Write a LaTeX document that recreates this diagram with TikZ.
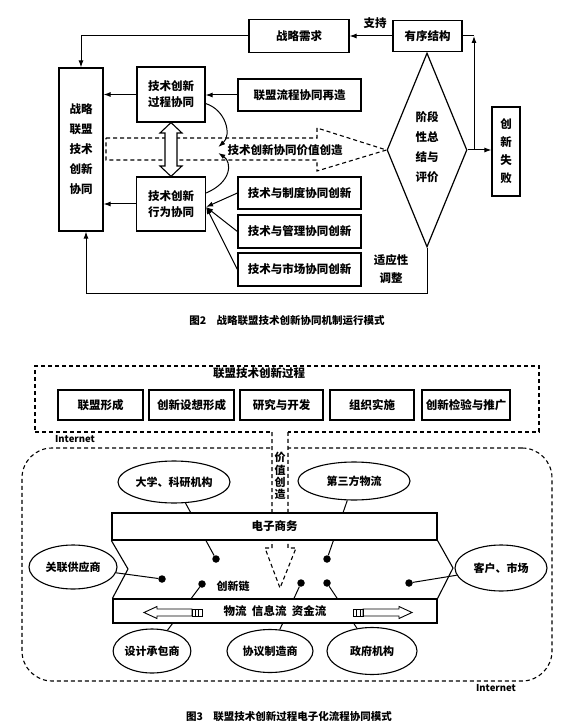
\documentclass[tikz,border=0pt]{standalone}
\usepackage{fontspec}
\setmainfont{Noto Sans CJK SC}
\usetikzlibrary{arrows.meta,shapes.geometric}
\newcommand\fsz[2]{\fontsize{#1}{#2}\selectfont}
\tikzset{
  box/.style={draw,line width=1.2pt,fill=white,inner sep=0pt,align=center,font=\bfseries\fsz{11.5}{16}},
  ell/.style={ellipse,draw,line width=1.1pt,fill=white,inner sep=0pt,font=\bfseries\fsz{11}{13}},
  dot/.style={circle,fill=black,inner sep=0pt,minimum size=7.5pt},
  dashline/.style={dashed,dash pattern=on 4pt off 3pt,line width=1.1pt},
  link/.style={line width=1pt,->},
  lbl/.style={inner sep=0pt,align=center,font=\bfseries\fsz{11.5}{16}},
}
\begin{document}
\begin{tikzpicture}[x=1pt,y=-1pt,>={Latex[length=7pt,width=5pt]}]
\useasboundingbox (0,0) rectangle (577,727);
% upper figure
\node (dem) at (299,36) [box,minimum width=100pt,minimum height=33pt] {战略需求};
\node (ord) at (427.5,36) [box,minimum width=69pt,minimum height=31pt] {有序结构};
\node (sau) at (81,149.5) [box,minimum width=44pt,minimum height=163pt,font=\bfseries\fsz{11.5}{20}] {战略\\联盟\\技术\\创新\\协同};
\node (proc) at (171,94.5) [box,minimum width=68pt,minimum height=55pt] {技术创新\\过程协同};
\node (reng) at (299.5,95) [box,minimum width=123pt,minimum height=32pt] {联盟流程协同再造};
\node (act) at (171,204) [box,minimum width=69pt,minimum height=54pt] {技术创新\\行为协同};
\node (sys) at (299.5,193) [box,minimum width=123pt,minimum height=32pt] {技术与制度协同创新};
\node (mgt) at (299.5,231.5) [box,minimum width=123pt,minimum height=33pt] {技术与管理协同创新};
\node (mkt) at (299.5,269.5) [box,minimum width=123pt,minimum height=33pt] {技术与市场协同创新};
\node (eval) at (427,150) [diamond,draw,line width=1.2pt,inner sep=0pt,minimum width=80pt,minimum height=194pt] {};
\node (evaltxt) at (427,147) [lbl,font=\bfseries\fsz{11.5}{20}] {阶段\\性总\\结与\\评价};
\node (fail) at (506,151.5) [box,minimum width=28pt,minimum height=89pt,font=\bfseries\fsz{11.5}{18}] {创\\新\\失\\败};
\draw[dashline] (106,138) -- (317,138) -- (317,128) -- (eval.west) -- (317,171) -- (317,160) -- (106,160) -- cycle;
\node (valtxt) at (285,150) [lbl,inner xsep=9pt] {技术创新协同价值创造};
\draw[line width=1.1pt,fill=white] (proc.south) -- (182,133) -- (177,133) -- (177,166) -- (182,166) -- (act.north)
  -- (160,166) -- (165,166) -- (165,133) -- (160,133) -- cycle;
\draw[link] ([yshift=-9pt]proc.east) .. controls (226,110) and (232,135) .. ([yshift=3pt]valtxt.west);
\draw[link] ([yshift=11pt]act.east) .. controls (232,182) and (232,162) .. ([yshift=-3pt]valtxt.west);
\draw[link] (sys.west) -- ([yshift=-3pt]act.east);
\draw[link] (mgt.west) -- ([yshift=-3pt]act.east);
\draw[link] (mkt.west) -- ([yshift=-3pt]act.east);
\draw[link] (ord.west) -- (dem.east);
\node (sup) at (375,23) [lbl] {支持};
\draw[link] (dem.west) -| (sau.north);
\draw[link] (reng.west) -- (reng.west -| proc.east);
\draw[link] (proc.west) -- (proc.west -| sau.east);
\draw[link] (act.west) -- (act.west -| sau.east);
\draw[link] (eval.east) -- (eval.east -| fail.west);
\coordinate (turn) at (474,36);
\draw[link] (eval.east) -| (turn);
\draw[line width=1pt] (turn) -- (ord.east);
\coordinate (low) at (427,293);
\draw[link] (eval.south) -- (low) -| ([xshift=5pt]sau.south);
\node (adj) at (391,269) [lbl,font=\bfseries\fsz{11.5}{18}] {适应性\\调整};
\node (cap1) at (287,321) [font=\bfseries\fsz{10.5}{12}] {图2\quad 战略联盟技术创新协同机制运行模式};
% lower figure
\node (flow) at (287,399) [draw,dashline,minimum width=504pt,minimum height=66pt] {};
\node (flowtitle) at (259,373) [lbl] {联盟技术创新过程};
\node (s1) at (100.5,405) [box,minimum width=85pt,minimum height=30pt] {联盟形成};
\node (s2) at (191.5,405) [box,minimum width=85pt,minimum height=30pt] {创新设想形成};
\node (s3) at (281.5,405) [box,minimum width=83pt,minimum height=30pt] {研究与开发};
\node (s4) at (372,405) [box,minimum width=84pt,minimum height=30pt] {组织实施};
\node (s5) at (466,405) [box,minimum width=88pt,minimum height=30pt] {创新检验与推广};
\node (net) at (287,564.5) [draw,dashline,rounded corners=30pt,minimum width=530pt,minimum height=233pt] {};
\node (net1) at (75,439) [font=\bfseries\fsz{9.5}{10}] {Internet};
\node (net2) at (496,688) [font=\bfseries\fsz{9.5}{10}] {Internet};
\fill[white] (272,428) rectangle (288,452);
\draw[dashline] (272,432) -- (272,548) -- (265,548) -- (280,588) -- (296,548) -- (288,548) -- (288,432);
\node (valc) at (280,476) [lbl,font=\bfseries\fsz{11}{12.3}] {价\\值\\创\\造};
\node (univ) at (174,482) [ell,minimum width=112pt,minimum height=42pt] {大学、科研机构};
\node (logi) at (354,481) [ell,minimum width=112pt,minimum height=38pt] {第三方物流};
\node (supp) at (73,567) [ell,minimum width=88pt,minimum height=44pt] {关联供应商};
\node (cust) at (501,568) [ell,minimum width=92pt,minimum height=46pt] {客户、市场};
\node (design) at (152,651) [ell,minimum width=70pt,minimum height=44pt] {设计承包商};
\node (proto) at (270,651) [ell,minimum width=86pt,minimum height=43pt] {协议制造商};
\node (gov) at (372,651) [ell,minimum width=90pt,minimum height=47pt] {政府机构};
\node (d1) at (216,559) [dot] {};
\node (d2) at (327,559) [dot] {};
\node (d3) at (162,579) [dot] {};
\node (d4) at (202,584) [dot] {};
\node (d5) at (301,583) [dot] {};
\node (d6) at (327,583) [dot] {};
\node (d7) at (409,583) [dot] {};
\draw[line width=1pt] (univ) -- (d1);
\draw[line width=1pt] (logi) -- (d2);
\draw[line width=1pt] (supp) -- (d3);
\draw[line width=1pt] (design) -- (d4);
\draw[line width=1pt] (proto) -- (d5);
\draw[line width=1pt] (gov) -- (d6);
\draw[line width=1pt] (cust) -- (d7);
\node (ebar) at (274.5,526.5) [box,minimum width=325pt,minimum height=27pt] {电子商务};
\node (fbar) at (275,611) [box,minimum width=324pt,minimum height=24pt] {物流\ \ 信息流\ \ 资金流};
\draw[line width=1.1pt] (ebar.south west) -- (128,569) -- (fbar.north west);
\draw[line width=1.1pt] (ebar.south east) -- (453,568) -- (fbar.north east);
\node (chain) at (233,586) [lbl,font=\bfseries\fsz{11}{13}] {创新链};
% hollow arrows in the bar
\draw[line width=0.9pt] (144,612.5) -- (157,606.5) -- (157,609) -- (192,609) -- (192,616) -- (157,616) -- (157,618.5) -- cycle;
\draw[line width=0.9pt] (192,609) rectangle (202,616) (195,609) -- (195,616) (198.5,609) -- (198.5,616);
\draw[line width=0.9pt] (412,612.5) -- (399,606.5) -- (399,609) -- (363,609) -- (363,616) -- (399,616) -- (399,618.5) -- cycle;
\draw[line width=0.9pt] (353,609) rectangle (363,616) (356.5,609) -- (356.5,616) (360,609) -- (360,616);
\node (cap2) at (289,717) [font=\bfseries\fsz{10.5}{12}] {图3\quad 联盟技术创新过程电子化流程协同模式};
\end{tikzpicture}
\end{document}
